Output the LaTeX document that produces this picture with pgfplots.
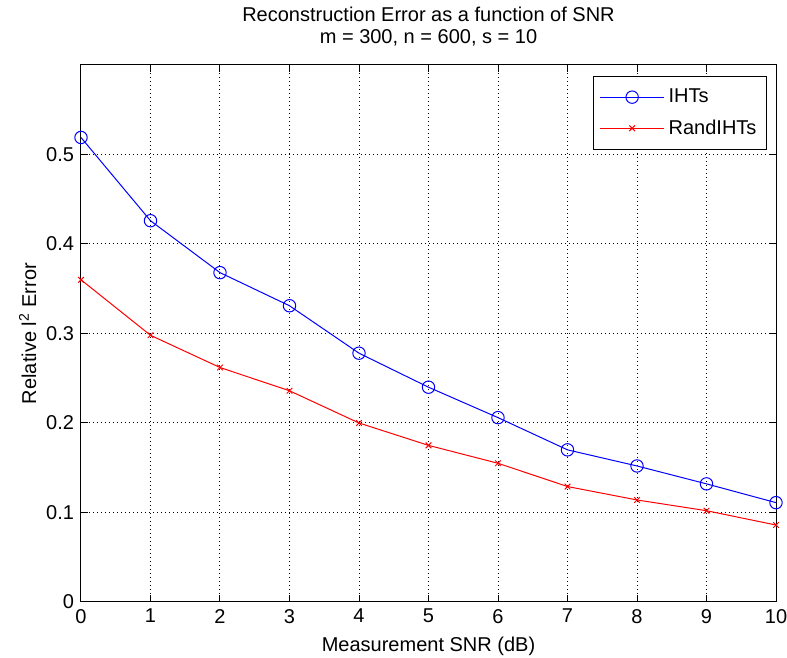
\documentclass[border=0pt]{standalone}
\usepackage{fontspec}
\setmainfont{Liberation Sans}
\usepackage{pgfplots}
\pgfplotsset{compat=1.18}

\begin{document}
\begin{tikzpicture}
\path[use as bounding box] (-40.5pt,-28pt) rectangle (353pt,301pt);
\begin{axis}[
  scale only axis,
  width=347.5pt,
  height=268.5pt,
  xmin=0, xmax=10,
  ymin=0, ymax=0.6,
  xtick={0,1,...,10},
  ytick={0,0.1,0.2,0.3,0.4,0.5},
  /pgf/number format/assume math mode=true,
  tick label style={font=\fontsize{10}{12}\selectfont},
  label style={font=\fontsize{10}{12}\selectfont},
  ylabel style={yshift=-2pt},
  tick align=inside,
  major tick length=3.5pt,
  axis line style={line width=0.5pt},
  every tick/.style={black, line width=0.5pt},
  grid=major,
  major grid style={black, line width=0.5pt, dash pattern=on 0.5pt off 1.5pt},
  title={Reconstruction Error as a function of SNR\\m = 300, n = 600, s = 10},
  title style={align=center, font=\fontsize{10}{11}\selectfont},
  xlabel={Measurement SNR (dB)},
  ylabel={Relative l\textsuperscript{2} Error},
  legend cell align=left,
  legend style={at={(0.987,0.979)}, anchor=north east, draw=black,
    line width=0.5pt, font=\fontsize{10}{12}\selectfont, row sep=3pt,
    inner ysep=4pt},
  legend image code/.code={\draw[mark repeat=2, mark phase=2]
    plot coordinates {(0pt,0pt) (16pt,0pt) (32pt,0pt)};},
]
\addplot[blue, line width=0.5pt, mark=o, mark size=3.1pt] coordinates {
  (0,0.519) (1,0.426) (2,0.368) (3,0.331) (4,0.278) (5,0.240)
  (6,0.206) (7,0.170) (8,0.152) (9,0.132) (10,0.111)
};
\addlegendentry{IHTs}
\addplot[red, line width=0.5pt, mark=x, mark size=2pt] coordinates {
  (0,0.360) (1,0.298) (2,0.262) (3,0.236) (4,0.200) (5,0.175)
  (6,0.155) (7,0.129) (8,0.114) (9,0.102) (10,0.086)
};
\addlegendentry{RandIHTs}
\end{axis}
\end{tikzpicture}
\end{document}
